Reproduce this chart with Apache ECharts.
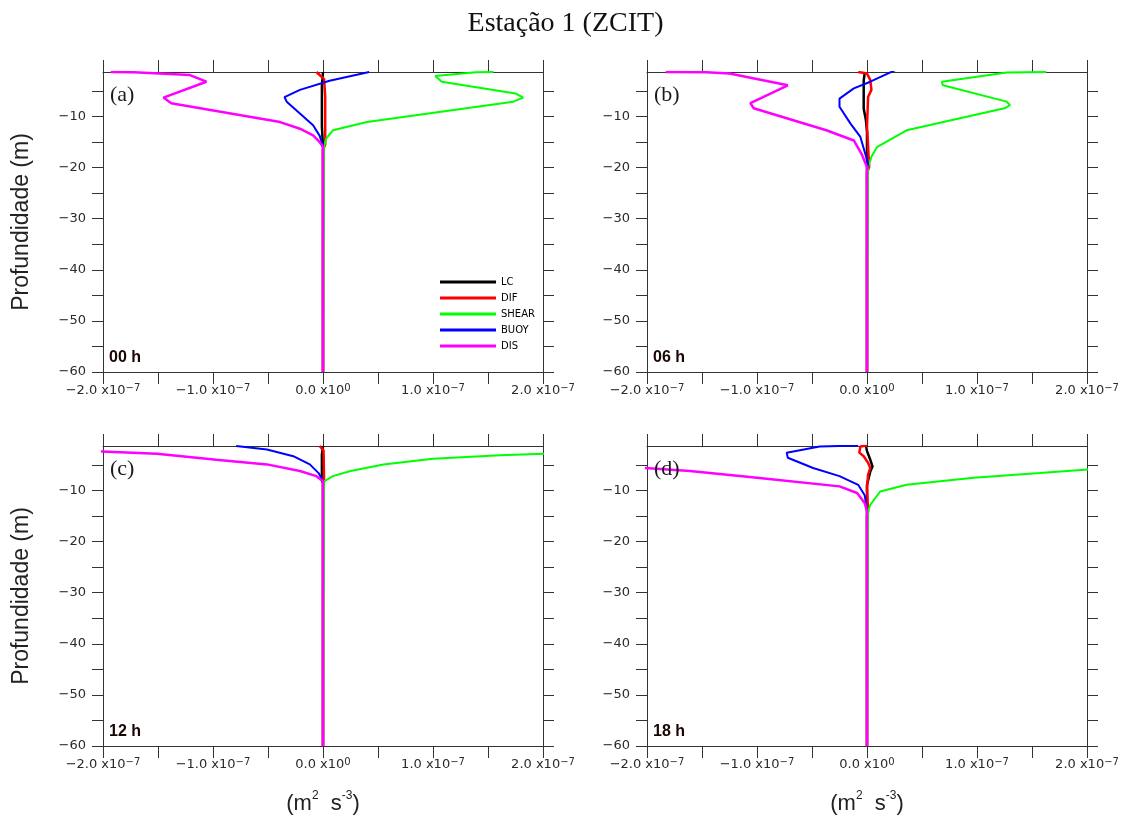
<!DOCTYPE html>
<html>
<head>
<meta charset="utf-8">
<script src="https://cdn.jsdelivr.net/npm/echarts@6/dist/echarts.min.js"></script>
<style>
  html, body { margin: 0; padding: 0; background: #ffffff; }
  #chart { width: 1131px; height: 821px; }
</style>
</head>
<body>
<div id="chart"></div>
<script>
// Turbulent kinetic energy budget terms, station 1 (ZCIT).
// Each profile: [term value in units of 1e-7 m2 s-3, depth in m]

// 00 h
const lc00    = [[0,-1.3],[-0.01,-4],[-0.01,-12],[0,-16],[0,-60]];
const dif00   = [[-0.06,-1.3],[0.01,-2.7],[0.02,-6],[0.02,-15.5],[0,-16.5],[0,-60]];
const shear00 = [[1.55,-1.3],[1.39,-1.35],[1.02,-2.1],[1.08,-3.2],[1.75,-5.5],[1.82,-6.3],[1.73,-7.1],[0.40,-11.1],[0.09,-12.7],[0.03,-14.3],[0.01,-15.8],[0,-60]];
const buoy00  = [[0.42,-1.3],[0.06,-3.0],[-0.21,-4.8],[-0.35,-6.2],[-0.33,-7.1],[-0.21,-9.4],[-0.09,-11.7],[-0.03,-13.8],[0,-15.8],[0,-60]];
const dis00   = [[-1.93,-1.3],[-1.72,-1.35],[-1.21,-1.9],[-1.06,-3.2],[-1.45,-6.3],[-1.38,-7.4],[-0.39,-11.1],[-0.21,-12.4],[-0.09,-13.7],[-0.03,-15.0],[0,-16.0],[0,-60]];

// 06 h
const lc06    = [[-0.02,-1.3],[-0.03,-3],[-0.03,-8.5],[-0.01,-10.7],[0,-13],[0,-60]];
const dif06   = [[-0.08,-1.3],[0.0,-1.6],[0.03,-2.9],[0.04,-4.8],[0.01,-6.2],[0.0,-12.0],[0.02,-19.9],[0,-21],[0,-60]];
const shear06 = [[1.63,-1.3],[1.27,-1.4],[0.68,-3.2],[0.69,-3.9],[1.27,-7.1],[1.30,-7.8],[1.25,-8.4],[0.36,-12.7],[0.09,-16.0],[0.04,-17.9],[0.01,-19.9],[0,-60]];
const buoy06  = [[0.27,-0.8],[0.03,-3.2],[-0.12,-4.5],[-0.25,-6.5],[-0.25,-8.1],[-0.15,-11.4],[-0.06,-14.0],[0.01,-19.2],[0,-20.5],[0,-60]];
const dis06   = [[-1.83,-1.3],[-1.46,-1.35],[-1.25,-1.6],[-0.72,-3.9],[-1.06,-7.4],[-1.03,-8.4],[-0.37,-12.7],[-0.12,-14.7],[-0.05,-17.3],[0,-19.9],[0,-60]];

// 12 h
const lc12    = [[0,-1.3],[-0.01,-3],[-0.01,-8],[0,-8.6],[0,-60]];
const dif12   = [[-0.03,-1.3],[0.005,-2.2],[0.01,-8.2],[0,-8.8],[0,-60]];
const shear12 = [[2.5,-2.6],[2.02,-2.8],[1.61,-3.1],[1.0,-3.8],[0.55,-4.9],[0.25,-6.2],[0.09,-7.2],[0.01,-8.2],[0,-60]];
const buoy12  = [[-0.79,-1.3],[-0.51,-2.0],[-0.27,-3.3],[-0.12,-4.9],[-0.04,-6.6],[0,-8.2],[0,-60]];
const dis12   = [[-2.6,-2.0],[-2.01,-2.4],[-1.51,-2.8],[-0.97,-4.0],[-0.51,-4.9],[-0.21,-6.2],[-0.06,-7.2],[0,-8.2],[0,-60]];

// 18 h
const lc18    = [[-0.01,-1.2],[0,-2.3],[0.03,-4.0],[0.05,-5.3],[0.03,-6.3],[0,-8.9],[0,-60]];
const dif18   = [[0,-1.2],[-0.06,-1.4],[-0.07,-2.6],[-0.03,-3.3],[0.01,-4.6],[0.03,-5.6],[0.01,-6.9],[0,-9.5],[0.01,-14.1],[0,-15],[0,-60]];
const shear18 = [[2.5,-5.2],[2.01,-5.9],[1.57,-6.6],[0.97,-7.5],[0.36,-8.9],[0.12,-10.2],[0.03,-12.8],[0.01,-14.1],[0,-60]];
const buoy18  = [[-0.08,-1.2],[-0.43,-1.4],[-0.73,-2.6],[-0.72,-3.6],[-0.49,-5.6],[-0.25,-7.2],[-0.08,-8.9],[-0.02,-11.0],[0,-14.1],[0,-60]];
const dis18   = [[-2.5,-4.9],[-2.02,-5.6],[-1.61,-6.2],[-1.0,-7.5],[-0.25,-9.2],[-0.09,-10.5],[-0.02,-12.5],[0,-14.1],[0,-60]];

// Term names and panel captions
const termNames = ['LC', 'DIF', 'SHEAR', 'BUOY', 'DIS'];
const panelTags = ['(a)', '(b)', '(c)', '(d)'];
const panelHours = ['00 h', '06 h', '12 h', '18 h'];

// Axis ticks and labels
const xTicks  = [-2, -1.5, -1, -0.5, 0, 0.5, 1, 1.5, 2];
const xLabels = [-2, -1, 0, 1, 2];
const yTicks  = [-60, -55, -50, -45, -40, -35, -30, -25, -20, -15, -10, -5];
const yLabels = [-60, -50, -40, -30, -20, -10];

const profiles = [
  { LC: lc00, DIF: dif00, SHEAR: shear00, BUOY: buoy00, DIS: dis00 },
  { LC: lc06, DIF: dif06, SHEAR: shear06, BUOY: buoy06, DIS: dis06 },
  { LC: lc12, DIF: dif12, SHEAR: shear12, BUOY: buoy12, DIS: dis12 },
  { LC: lc18, DIF: dif18, SHEAR: shear18, BUOY: buoy18, DIS: dis18 }
];

const termColors = { LC: '#000000', DIF: '#ff0000', SHEAR: '#00ff00', BUOY: '#0000ff', DIS: '#ff00ff' };
const termWidths = { LC: 2.5, DIF: 2.5, SHEAR: 2, BUOY: 2, DIS: 2.5 };

// Panel boxes (left, top) in pixels
const boxes = [[103, 72], [647, 72], [103, 446], [647, 446]];
const BOX_W = 440, BOX_H = 300;
const DEPTH_TOP = -1.3;
const AXIS_COLOR = '#333333';
const SANS = '"Liberation Sans", Arial, sans-serif';
const TICK_FONT = '"DejaVu Sans", sans-serif';
const SERIF = '"Liberation Serif", "Times New Roman", serif';

function fmtX(v) {
  if (Math.abs(v) < 1e-9) return '{n|0.0 x10}{s|0}';
  return '{n|' + (v < 0 ? '\u2212' : '') + Math.abs(v).toFixed(1) + ' x10}{s|\u22127}';
}
function fmtY(v) {
  return (v < 0 ? '\u2212' : '') + Math.abs(v);
}

const tickRich = {
  n: { fontSize: 13, fontFamily: TICK_FONT, color: '#2a2a2a', lineHeight: 16 },
  s: { fontSize: 10, fontFamily: TICK_FONT, color: '#2a2a2a', lineHeight: 8, verticalAlign: 'top' }
};

const grids = [], xAxes = [], yAxes = [], series = [], graphics = [];

boxes.forEach(function (b, i) {
  grids.push({ left: b[0], top: b[1], width: BOX_W, height: BOX_H, containLabel: false });
  const bottomRow = i >= 2;
  const leftCol = i % 2 === 0;

  // bottom x axis (with labels) and top x axis (ticks only)
  xAxes.push({
    type: 'value', gridIndex: i, position: 'bottom', min: -2, max: 2, interval: 0.5,
    axisLine: { show: true, onZero: false, lineStyle: { color: AXIS_COLOR, width: 1 } },
    axisTick: { show: true, length: 12, customValues: xTicks, lineStyle: { color: AXIS_COLOR, width: 1 } },
    axisLabel: { show: true, margin: 11, customValues: xLabels, formatter: fmtX, rich: tickRich },
    splitLine: { show: false },
    name: bottomRow ? '{n|(m}{s|2}{n|  s}{s|-3}{n|)}' : '',
    nameLocation: 'middle', nameGap: 44,
    nameTextStyle: {
      rich: {
        n: { fontSize: 22, fontFamily: SANS, color: '#222', lineHeight: 28 },
        s: { fontSize: 12, fontFamily: SANS, color: '#222', lineHeight: 14, verticalAlign: 'top' }
      }
    }
  });
  xAxes.push({
    type: 'value', gridIndex: i, position: 'top', min: -2, max: 2, interval: 0.5,
    axisLine: { show: true, onZero: false, lineStyle: { color: AXIS_COLOR, width: 1 } },
    axisTick: { show: true, length: 12, customValues: xTicks, lineStyle: { color: AXIS_COLOR, width: 1 } },
    axisLabel: { show: false },
    splitLine: { show: false }
  });

  // left y axis (with labels) and right y axis (ticks only)
  yAxes.push({
    type: 'value', gridIndex: i, position: 'left', min: -60, max: DEPTH_TOP, interval: 5,
    axisLine: { show: true, onZero: false, lineStyle: { color: AXIS_COLOR, width: 1 } },
    axisTick: { show: true, length: 11, customValues: yTicks, lineStyle: { color: AXIS_COLOR, width: 1 } },
    axisLabel: { show: true, margin: 17, customValues: yLabels, formatter: fmtY,
                 fontSize: 13, fontFamily: TICK_FONT, color: '#2a2a2a' },
    splitLine: { show: false },
    name: leftCol ? 'Profundidade (m)' : '',
    nameLocation: 'middle', nameRotate: 90, nameGap: 70,
    nameTextStyle: { fontSize: 23, fontFamily: SANS, color: '#222' }
  });
  yAxes.push({
    type: 'value', gridIndex: i, position: 'right', min: -60, max: DEPTH_TOP, interval: 5,
    axisLine: { show: true, onZero: false, lineStyle: { color: AXIS_COLOR, width: 1 } },
    axisTick: { show: true, length: 11, customValues: yTicks, lineStyle: { color: AXIS_COLOR, width: 1 } },
    axisLabel: { show: false },
    splitLine: { show: false }
  });

  termNames.forEach(function (nm) {
    series.push({
      type: 'line', name: nm, xAxisIndex: 2 * i, yAxisIndex: 2 * i,
      data: profiles[i][nm], showSymbol: false, symbol: 'none', clip: true,
      lineStyle: { color: termColors[nm], width: termWidths[nm] },
      itemStyle: { color: termColors[nm] },
      emphasis: { disabled: true }
    });
  });

  graphics.push({
    type: 'text', left: b[0] + 7, top: b[1] + 12, z: 100,
    style: { text: panelTags[i], font: '22px ' + SERIF, fill: '#1a1a1a' }
  });
  graphics.push({
    type: 'text', left: b[0] + 6, top: b[1] + BOX_H - 22, z: 100,
    style: { text: panelHours[i], font: 'bold 16px ' + SANS, fill: '#1a0505' }
  });
});

const chart = echarts.init(document.getElementById('chart'), null, { renderer: 'canvas' });
chart.setOption({
  animation: false,
  backgroundColor: '#ffffff',
  title: {
    text: 'Estação 1 (ZCIT)', left: 'center', top: 5,
    textStyle: { fontFamily: SERIF, fontSize: 28, fontWeight: 'normal', color: '#111' }
  },
  legend: {
    left: 440, top: 276, padding: 0, orient: 'vertical', data: termNames, icon: 'rect',
    itemWidth: 56, itemHeight: 3, itemGap: 4, selectedMode: false,
    textStyle: { fontSize: 10, lineHeight: 12, fontFamily: TICK_FONT, color: '#000' }
  },
  grid: grids,
  xAxis: xAxes,
  yAxis: yAxes,
  series: series,
  graphic: graphics
});
</script>
</body>
</html>
